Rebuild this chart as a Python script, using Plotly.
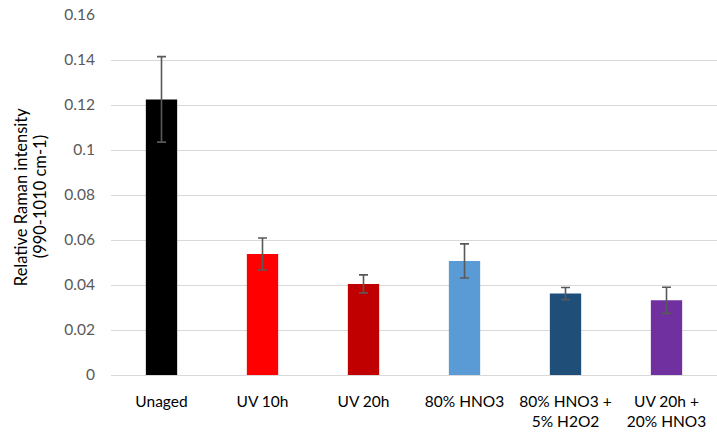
import plotly.graph_objects as go

categories = ["Unaged", "UV 10h", "UV 20h", "80% HNO3", "80% HNO3 +<br>5% H2O2", "UV 20h +<br>20% HNO3"]
values = [0.1225, 0.0538, 0.0405, 0.0507, 0.0362, 0.0332]
errors = [0.0190, 0.0071, 0.0040, 0.0076, 0.0027, 0.0058]
colors = ["#000000", "#FF0000", "#C00000", "#5B9BD5", "#1F4E79", "#7030A0"]
y_ticks = [0, 0.02, 0.04, 0.06, 0.08, 0.1, 0.12, 0.14, 0.16]
y_tick_labels = ["0", "0.02", "0.04", "0.06", "0.08", "0.1", "0.12", "0.14", "0.16"]
y_title_lines = ["Relative Raman intensity", "(990-1010 cm-1)"]

font_family = "Lato, 'Open Sans', sans-serif"

fig = go.Figure(
    go.Bar(
        x=categories,
        y=values,
        marker=dict(color=colors, line=dict(width=0)),
        width=0.31,
        error_y=dict(type="data", array=errors, visible=True,
                     color="#595959", thickness=1.6, width=4.5),
    )
)

# y-axis title drawn as two rotated, individually centred lines
title_annotations = [
    dict(
        text=line,
        textangle=-90,
        xref="paper", yref="paper",
        x=xpos, y=0.494,
        xanchor="center", yanchor="middle",
        showarrow=False,
        font=dict(size=16.5, color="#000000"),
    )
    for line, xpos in zip(y_title_lines, [-0.1485, -0.117])
]

fig.update_layout(
    width=717,
    height=434,
    margin=dict(l=111, r=0, t=15, b=59),
    plot_bgcolor="white",
    paper_bgcolor="white",
    showlegend=False,
    font=dict(family=font_family, size=15, color="#595959"),
    xaxis=dict(
        showgrid=False,
        showline=True,
        linecolor="#d9d9d9",
        linewidth=1,
        ticks="",
        ticklabelstandoff=12,
        tickfont=dict(size=15.5, color="#000000"),
    ),
    yaxis=dict(
        range=[0, 0.16],
        tickvals=y_ticks,
        ticktext=y_tick_labels,
        showgrid=True,
        gridcolor="#d9d9d9",
        gridwidth=1,
        zeroline=False,
        ticks="",
        ticklabelstandoff=15,
        tickfont=dict(size=15.5, color="#595959"),
    ),
    annotations=title_annotations,
)

fig.write_html("out.html")
